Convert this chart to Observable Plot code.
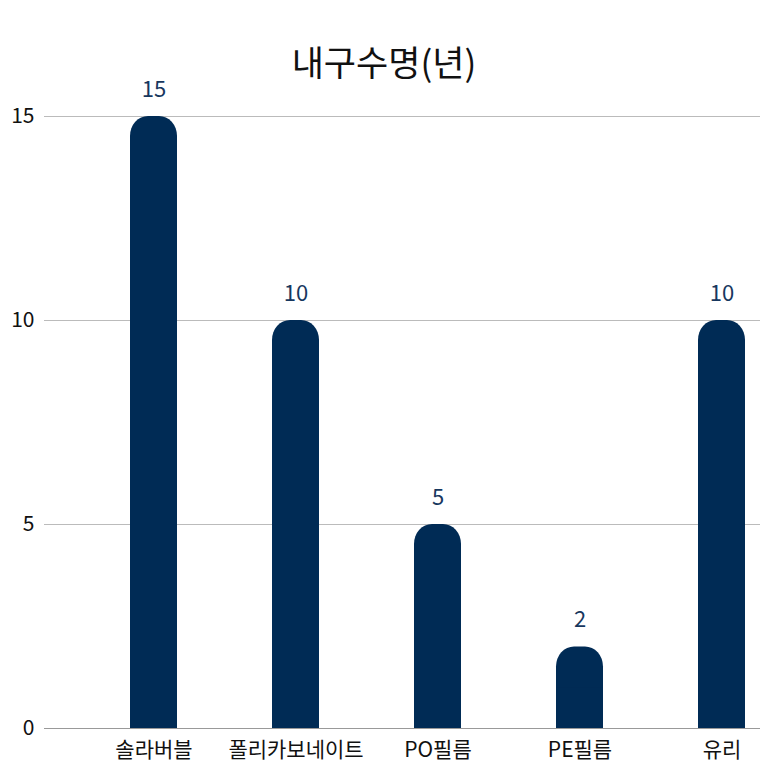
<!DOCTYPE html>
<html><head><meta charset="utf-8">
<script src="https://cdn.jsdelivr.net/npm/d3@7"></script>
<script src="https://cdn.jsdelivr.net/npm/@observablehq/plot@0.6"></script>
<style>
body{margin:0;background:#fff;font-family:"Noto Sans CJK KR","Noto Sans",sans-serif;overflow:hidden;}
#title{height:80px;box-sizing:border-box;padding-top:43px;font-size:35px;line-height:35px;text-align:center;color:#111;}
</style>
</head><body>
<div id="title">내구수명(년)</div>
<div id="chart"></div>
<script>
const categories = ["솔라버블", "폴리카보네이트", "PO필름", "PE필름", "유리"];
const values = [15, 10, 5, 2, 10];
const yTicks = [0, 5, 10, 15];

const data = categories.map((c, i) => ({name: c, value: values[i], half: values[i] / 2}));
const navy = "#002b55";
const font = '"Noto Sans CJK KR","Noto Sans",sans-serif';

const chart = Plot.plot({
  width: 768,
  height: 688,
  marginTop: 36,
  marginBottom: 40,
  marginLeft: 44,
  marginRight: 8,
  style: {fontFamily: font, fontSize: "21px", color: "#111", background: "transparent", overflow: "visible"},
  x: {domain: categories, range: [128, 747], paddingInner: 0.67, paddingOuter: 0, label: null},
  y: {domain: [0, 15], label: null},
  marks: [
    Plot.gridY(yTicks, {stroke: "#bbb", strokeOpacity: 1}),
    Plot.barY(data, {x: "name", y: "value", fill: navy, rx: 18, ry: 20}),
    Plot.barY(data, {x: "name", y: "half", fill: navy}),
    Plot.axisY(yTicks, {tickSize: 0, tickPadding: 10, fontSize: 21, fill: "#111", label: null}),
    Plot.axisX({tickSize: 0, tickPadding: 14, fontSize: 21, fill: "#111", label: null}),
    Plot.ruleX([0], {frameAnchor: "left", stroke: "#999"}),
    Plot.ruleY([0], {stroke: "#999"}),
    Plot.text(data, {x: "name", y: "value", text: d => String(d.value), dy: -27, fill: "#17375e", fontSize: 22})
  ]
});
document.getElementById("chart").appendChild(chart);
</script>
</body></html>
